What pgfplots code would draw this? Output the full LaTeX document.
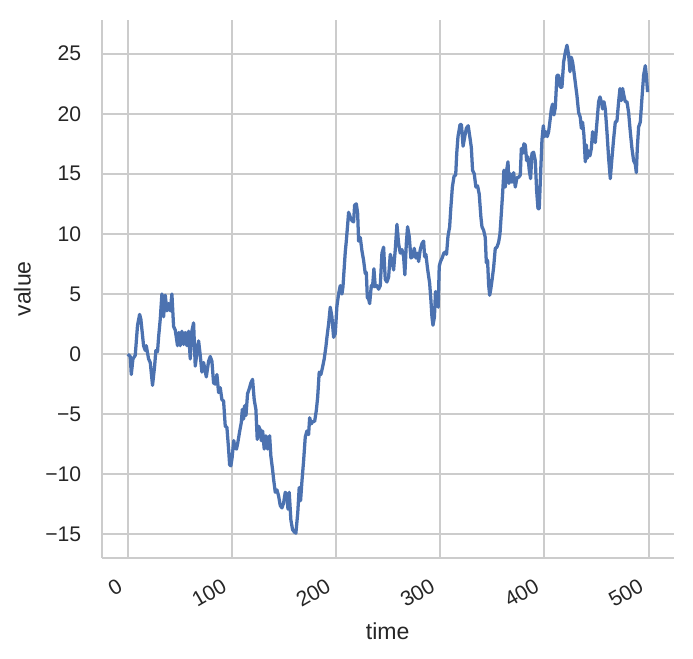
\documentclass[border=0pt]{standalone}
\usepackage{fontspec}
\setmainfont{Liberation Sans}
\usepackage{pgfplots}
\pgfplotsset{compat=1.18}
\definecolor{sline}{HTML}{4C72B0}
\definecolor{sgrid}{HTML}{CCCCCC}
\definecolor{stxt}{HTML}{262626}
\begin{document}
\begin{tikzpicture}
\begin{axis}[
  scale only axis, width=297.3pt, height=279.6pt,
  xmin=-24.95, xmax=523.95, ymin=-16.95, ymax=27.8,
  axis x line*=bottom, axis y line*=left,
  axis line style={sgrid, line width=1.25pt, -},
  xtick={0,100,200,300,400,500},
  xticklabels={0,100,200,300,400,500},
  ytick={-15,-10,-5,0,5,10,15,20,25},
  yticklabels={−15,−10,−5,0,5,10,15,20,25},
  major tick length=0pt,
  grid=major, major grid style={sgrid, line width=1pt},
  tick label style={font=\fontsize{11}{13}\selectfont, text=stxt},
  yticklabel style={inner sep=0pt, anchor=east, xshift=-10.5pt},
  xticklabel style={xshift=-5.8pt, yshift=-10pt, rotate=30, anchor=north east, inner sep=0pt},
  xlabel={time}, ylabel={value},
  label style={font=\fontsize{12}{14}\selectfont, text=stxt},
  xlabel style={at={(axis description cs:0.5,-0.136)}, anchor=center},
  ylabel style={at={(axis description cs:-0.139,0.5)}, anchor=center},
]
\coordinate (sw) at (rel axis cs:0,0);
\coordinate (ne) at (rel axis cs:1,1);
\addplot[sline, line width=1.7pt, line join=round, no markers] coordinates {
(0,0)(2.4,-0.2)(3.4,-1.7)(5,-0.4)(7.2,-0.1)(9.4,2.4)(11.4,3.3)(12.6,2.9)(15.2,0.7)(16.8,0.3)(17.8,0.7)(20,-0.4)(21.6,-0.7)(23.8,-2.6)(25.8,-1.0)(27,0.3)(28.6,0.2)(29.6,1.4)(31.2,2.9)(32.8,5.0)(34.4,3.1)(36,4.9)(37.6,3.6)(39.2,4.2)(40.8,3.6)(42.4,5.0)(44,2.3)(45.6,2.0)(47.8,0.7)(49,1.8)(50.4,0.7)(52,1.9)(53.6,0.8)(55.2,1.8)(56.8,0.7)(58.4,1.9)(60,-0.4)(61.3,1.8)(63.2,2.6)(64.8,-1.0)(66.4,0.1)(68,1.1)(69.6,-0.1)(71.2,-1.5)(72.8,-0.7)(75.4,-1.9)(77.6,-0.6)(79.2,-0.2)(80.8,-0.6)(82.4,-2.4)(84,-2.5)(85.6,-1.7)(87.2,-3.2)(88.8,-2.8)(90.4,-3.8)(92,-3.9)(93.6,-6.0)(95.2,-6.1)(96.8,-7.9)(97.8,-9.2)(99,-9.3)(100.2,-8.6)(101.8,-7.2)(102.8,-7.8)(104.4,-7.9)(105.6,-7.4)(107.5,-6.4)(109,-5.7)(110,-4.6)(111.2,-5.4)(112.2,-4.3)(113.5,-5.1)(115,-3.3)(116.6,-2.9)(118.2,-2.4)(119.8,-2.1)(121.4,-3.8)(123,-4.6)(124.3,-7.1)(125.6,-6.0)(127.2,-6.3)(128.2,-7.2)(129.5,-6.4)(131,-7.9)(132.6,-6.8)(134.2,-7.9)(136.2,-6.8)(137.4,-8.5)(139,-9.6)(140,-10.4)(141.6,-11.5)(143.2,-11.3)(144.8,-11.8)(146.4,-12.6)(148,-12.8)(149.6,-12.4)(151.2,-11.5)(152.8,-11.7)(153.8,-12.9)(155,-11.5)(156.6,-13.8)(158.2,-14.6)(159.8,-14.8)(161.4,-14.9)(163.2,-13.2)(164.6,-11.1)(165.9,-12.2)(167.2,-10.6)(168.8,-8.9)(170.4,-6.9)(172,-6.4)(173.6,-6.7)(174.6,-5.3)(176.2,-5.8)(177.8,-5.6)(179.4,-5.6)(181,-4.7)(182.3,-3.6)(183.8,-1.5)(185.4,-1.7)(187,-1.1)(188.6,-0.4)(190.2,0.6)(191.2,1.4)(192.8,2.5)(194.4,3.9)(196,3.1)(197.6,1.4)(199.2,1.7)(200.8,4.0)(202.4,5.0)(204,5.7)(205.6,5.0)(206.6,5.6)(207.8,7.2)(208.8,8.5)(209.8,9.4)(211.4,11.1)(212,11.8)(213.6,11.4)(215.2,11.1)(216.8,11.0)(217.8,12.4)(219.4,12.5)(220.7,11.7)(221.6,9.4)(223.2,9.7)(224.8,8.6)(226.4,7.8)(228,6.7)(229,6.8)(230,4.7)(231.2,4.6)(232.2,4.2)(233.8,5.7)(235,5.6)(236.3,7.1)(237.6,5.6)(239.2,5.7)(240.8,5.4)(242.4,5.7)(244,8.4)(245.6,8.9)(247.2,6.2)(248.8,6.0)(250.4,6.4)(252,8.3)(253.6,7.8)(255.2,7.0)(256.8,8.7)(258.4,10.8)(260,9.2)(261.6,8.4)(263.2,8.7)(264.8,8.1)(266,6.6)(267.4,9.2)(268.6,10.6)(270.2,9.8)(271.8,8.0)(273.4,8.1)(275,8.8)(276.6,8.0)(278.2,8.4)(279.2,7.7)(280.8,8.7)(282.4,9.2)(284,9.4)(285,8.1)(286.2,8.3)(287.8,7.1)(289.8,5.9)(291,4.5)(292,3.1)(293,2.4)(294.4,3.1)(295.4,5.2)(297,4.8)(298,3.9)(299,7.3)(300.2,7.7)(301.8,8.0)(303.4,8.4)(305,8.5)(306,8.3)(307.4,9.8)(309,10.6)(310,12.0)(311.6,13.9)(313.2,14.8)(314.8,14.9)(315.8,16.7)(317,18.1)(319,19.1)(320.3,19.1)(321.9,17.3)(323.5,18.1)(325.1,18.8)(326.8,19.0)(328.5,18.0)(329.8,17.2)(331,15.3)(332.6,15.0)(334.2,13.9)(335.8,14.0)(337.4,13.3)(339,11.4)(340,10.6)(341.6,10.3)(343.2,9.7)(344.2,7.6)(345.4,7.8)(346.4,5.8)(347.4,4.9)(348.3,5.3)(349.6,6.1)(351.2,7.2)(352.8,8.8)(354.4,8.9)(356,9.3)(357.3,10.0)(358.6,11.7)(359.8,13.3)(361.1,15.3)(362.4,13.9)(363.7,15.3)(365,16.0)(365.9,14.2)(367.2,15.0)(368.8,14.3)(370.4,15.1)(372,13.9)(373.6,14.7)(375.2,14.7)(376.8,14.9)(377.8,17.1)(379,16.7)(380.3,17.5)(381.6,17.4)(382.9,16.1)(384.2,16.4)(385.4,15.3)(386.7,14.6)(388,16.7)(389.6,16.8)(391.2,16.1)(392.5,13.6)(393.8,12.1)(395,12.1)(396.3,15.0)(397.6,17.8)(398.9,19.0)(400.2,18.1)(401.4,18.5)(402.7,18.1)(404,18.5)(405.3,19.4)(406.6,20.4)(407.8,20.8)(409.1,19.9)(410.4,20.5)(412,23.2)(413.6,23.2)(415.2,22.2)(416.8,22.2)(418.4,24.3)(420,25.1)(421.6,25.7)(423.2,24.9)(424.5,23.5)(425.8,24.7)(427,24.3)(428.3,23.5)(429.6,22.6)(431.2,21.5)(432.8,20.1)(434.4,19.7)(435.4,18.8)(436.6,19.3)(437.9,18.2)(439.2,16.0)(440.2,17.4)(441.1,16.3)(442.4,16.9)(443.7,16.5)(445,17.1)(446.2,18.5)(447.5,18.2)(448.8,17.6)(450.4,19.3)(452,21.0)(453.3,21.4)(454.6,21.0)(455.8,20.4)(457.1,21.0)(458.4,20.4)(460,18.5)(461.6,16.3)(463.2,14.6)(464.8,16.3)(466.4,17.9)(468,19.3)(469.6,19.4)(471.2,21.0)(472.5,22.1)(473.8,21.1)(475,22.1)(476.3,21.5)(477.6,21.0)(479.2,21.0)(480.8,20.1)(482.4,18.5)(484,17.1)(485.6,16.1)(487.2,15.8)(488.2,15.1)(489.1,17.1)(490.4,18.9)(492,19.3)(493.6,21.3)(495.2,23.2)(496.8,24.0)(497.8,23.2)(499,21.8)
};
\end{axis}
\pgfresetboundingbox
\path[use as bounding box] ([shift={(-52.9pt,-52.2pt)}]sw) rectangle ([shift={(10.1pt,10.4pt)}]ne);
\end{tikzpicture}
\end{document}
